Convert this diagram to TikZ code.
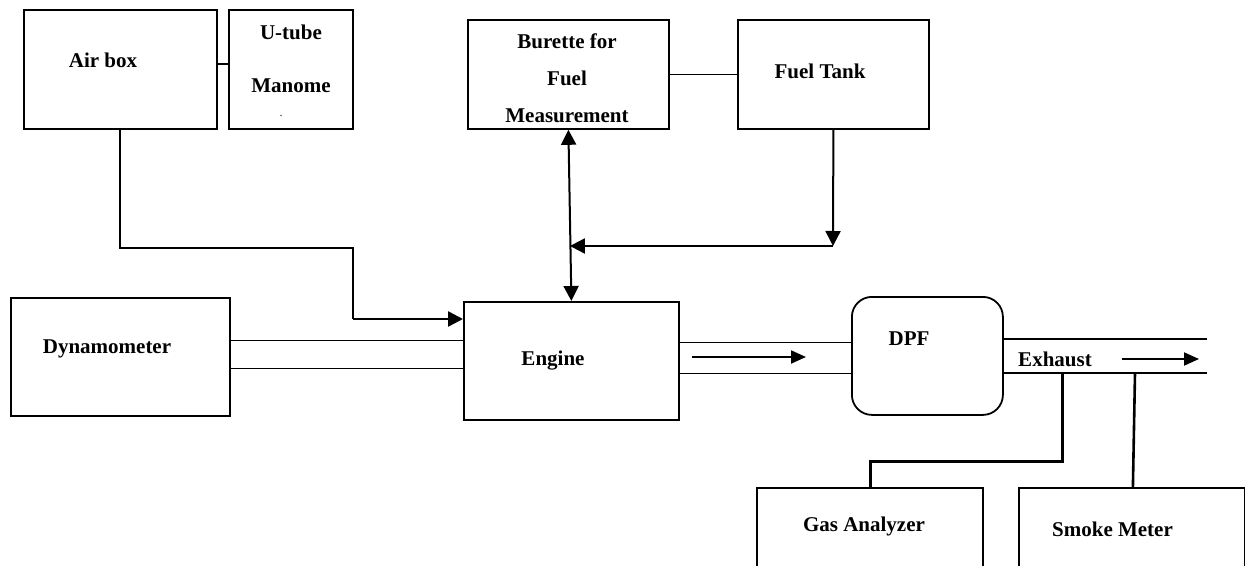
\documentclass[tikz,border=0pt]{standalone}
\usepackage{fontspec}
\setmainfont{Liberation Serif}
\usetikzlibrary{arrows.meta,calc}
\begin{document}
\begin{tikzpicture}[x=1pt,y=-1pt,
  box/.style={draw,line width=1.8pt,inner sep=0pt,anchor=north west},
  lbl/.style={font=\fontsize{21}{37}\selectfont\bfseries,inner sep=0pt,anchor=base},
  mlbl/.style={font=\fontsize{21}{37}\selectfont\bfseries,inner sep=0pt,align=center},
  thinln/.style={line width=1.5pt},
  shaft/.style={line width=1.1pt},
  arr/.style={line width=2pt,-{Triangle[length=15pt,width=15pt]}},
  darr/.style={line width=2pt,{Triangle[length=15pt,width=15pt]}-{Triangle[length=15pt,width=15pt]}},
  earr/.style={line width=2pt,-{Triangle[length=15pt,width=13pt]}},
  probe/.style={line width=3pt}]
\useasboundingbox (0,0) rectangle (1245,565);
\clip (0,0) rectangle (1245,565);
% boxes
\node[box,minimum width=193pt,minimum height=119pt] (airbox) at (23,9) {};
\node[box,minimum width=124pt,minimum height=119pt] (utube) at (228,9) {};
\node[box,minimum width=201pt,minimum height=109pt] (burette) at (467,19) {};
\node[box,minimum width=191pt,minimum height=109pt] (tank) at (737,19) {};
\node[box,minimum width=219pt,minimum height=118pt] (dyn) at (10,297) {};
\node[box,minimum width=215pt,minimum height=118pt] (engine) at (463,301) {};
\node[box,rounded corners=20pt,minimum width=151pt,minimum height=118pt] (dpf) at (851,296) {};
\node[box,minimum width=226pt,minimum height=120pt] (gas) at (756,487) {};
\node[box,minimum width=226pt,minimum height=120pt] (smoke) at (1018,487) {};
% labels
\node[lbl] (airboxT) at (103,67.5) {Air box};
\node[mlbl] (utubeT) at (291,58.75) {U-tube\\[16pt]Manome};
\node[font=\fontsize{8}{8}\selectfont\bfseries,inner sep=0pt] (utubeD) at (281,116) {.};
\node[mlbl] (buretteT) at (567,78) {Burette for\\Fuel\\Measurement};
\node[lbl] (tankT) at (820,78) {Fuel Tank};
\node[lbl] (dynT) at (107,353) {Dynamometer};
\node[lbl] (engineT) at (553,365) {Engine};
\node[lbl] (dpfT) at (909,345) {DPF};
\node[lbl] (exhT) at (1055,366) {Exhaust};
\node[lbl] (gasT) at (864,531.5) {Gas Analyzer};
\node[lbl] (smokeT) at (1112.5,536) {Smoke Meter};
% coordinates
\coordinate (aircorner) at (353,319);
\coordinate (ftj) at (833,246);
\coordinate (pin1) at (692,357);
\coordinate (pin2) at (806,357);
\coordinate (pe1) at (1207,339);
\coordinate (pe2) at (1207,373);
\coordinate (ex1) at (1122,359);
\coordinate (ex2) at (1199,359);
\coordinate (gA) at (1062,373);
\coordinate (sA) at (1135,373);
% connectors
\draw[thinln] ([yshift=5.5pt]airbox.east) -- ([yshift=5.5pt]utube.west);
\draw[thinln] ([xshift=97pt]airbox.south west) -- ++(0,118) -| (aircorner);
\draw[arr,line width=2.5pt] (aircorner) -- (engine.west |- aircorner);
\draw[thinln] (burette.east) -- (tank.west);
\draw[darr] (burette.south) -- (engine.north);
\draw[arr] (tank.south) -- (ftj);
\draw[arr] (ftj) -- ([xshift=1.5pt]ftj -| burette.south);
\draw[shaft] ([yshift=16pt]dyn.east) -- ([yshift=16pt]dyn.east -| engine.west);
\draw[shaft] ([yshift=-12pt]dyn.east) -- ([yshift=-12pt]dyn.east -| engine.west);
\draw[shaft] ([yshift=18pt]engine.east) -- ([yshift=18pt]engine.east -| dpf.west);
\draw[shaft] ([yshift=-13pt]engine.east) -- ([yshift=-13pt]engine.east -| dpf.west);
\draw[earr] (pin1) -- (pin2);
\draw[line width=1.6pt] (dpf.east |- pe1) -- (pe1);
\draw[line width=1.6pt] (dpf.east |- pe2) -- (pe2);
\draw[earr] (ex1) -- (ex2);
\draw[probe] (gA) -- ++(0,88) -| ([xshift=1pt]gas.north);
\draw[line width=2.6pt] (sA) -- ([xshift=1pt]smoke.north);
\end{tikzpicture}
\end{document}
